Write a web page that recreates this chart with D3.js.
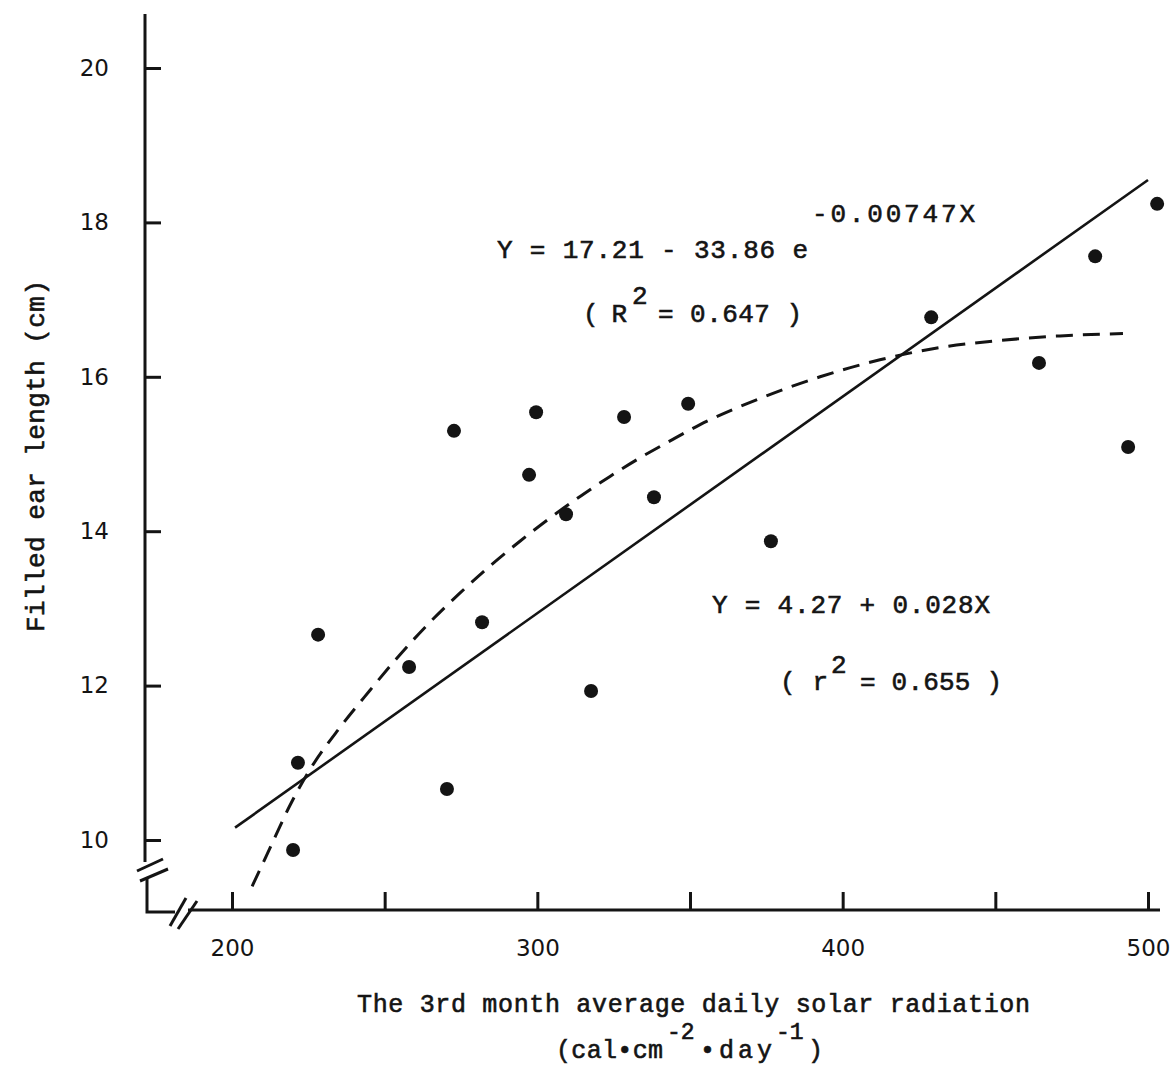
<!DOCTYPE html>
<html><head><meta charset="utf-8">
<script src="https://cdn.jsdelivr.net/npm/d3@7"></script>
<style>body{margin:0;background:#fff}svg{display:block}</style>
</head><body>
<svg id="c" width="1175" height="1070"></svg>
<script>
// ---- data ----
const xTicks = [200, 250, 300, 350, 400, 450, 500];
const xTickLabels = ["200", "", "300", "", "400", "", "500"];
const yTicks = [10, 12, 14, 16, 18, 20];
const yTickLabels = ["10", "12", "14", "16", "18", "20"];

const radiation = [220.0, 221.6, 228.2, 258.0, 270.4, 272.7, 281.9, 297.3, 299.6, 309.4,
                   317.6, 328.4, 338.2, 349.4, 376.5, 429.0, 464.3, 482.7, 493.5, 503.0];
const earLength = [9.87, 11.00, 12.66, 12.24, 10.66, 15.30, 12.82, 14.73, 15.54, 14.22,
                   11.93, 15.48, 14.44, 15.65, 13.87, 16.77, 16.18, 17.56, 15.09, 18.24];

const linearFitX = [201, 500];
const linearFitY = [10.16, 18.55];

const expFitX = [206.6, 212.5, 219.0, 225.5, 235.4, 245.2, 255.0, 264.8, 274.7, 284.5, 294.3,
                 304.1, 314.0, 323.8, 333.6, 343.5, 353.3, 372.9, 392.6, 412.2, 431.9, 451.5,
                 471.2, 491.8];
const expFitY = [9.40, 9.90, 10.45, 10.91, 11.46, 11.94, 12.40, 12.82, 13.20, 13.55, 13.87,
                 14.17, 14.45, 14.71, 14.95, 15.17, 15.38, 15.72, 16.00, 16.22, 16.38, 16.47,
                 16.53, 16.56];

// ---- layout ----
const svg = d3.select("#c");
const ink = "#141414";
const x = d3.scaleLinear().domain([200, 500]).range([232, 1148]);
const y = d3.scaleLinear().domain([10, 20]).range([840, 68]);
const axisX = 145, axisY = 910;
const mono = "'Liberation Mono','Courier New',monospace";
const sans = "'DejaVu Sans',sans-serif";

// axis lines
const ax = svg.append("g").attr("stroke", ink).attr("stroke-width", 3).attr("fill", "none");
ax.append("line").attr("x1", axisX).attr("x2", axisX).attr("y1", 14).attr("y2", y(10) + 22);
ax.append("line").attr("x1", axisX - 8).attr("y1", y(10) + 31).attr("x2", axisX + 18).attr("y2", y(10) + 19);
ax.append("line").attr("x1", axisX - 5).attr("y1", y(10) + 41).attr("x2", axisX + 23).attr("y2", y(10) + 29);
ax.append("path").attr("d", `M${axisX + 2},${y(10) + 38} V${axisY + 2} H${axisX + 30}`);
ax.append("line").attr("x1", axisX + 25).attr("y1", axisY + 16).attr("x2", axisX + 41).attr("y2", axisY - 12);
ax.append("line").attr("x1", axisX + 33).attr("y1", axisY + 19).attr("x2", axisX + 52).attr("y2", axisY - 9);
ax.append("line").attr("x1", axisX + 43).attr("x2", 1160).attr("y1", axisY).attr("y2", axisY);

// x axis ticks + labels
const gx = svg.append("g").attr("transform", `translate(0,${axisY})`)
  .call(d3.axisBottom(x).tickValues(xTicks)
    .tickFormat((d, i) => xTickLabels[i]).tickSizeInner(-18).tickSizeOuter(0).tickPadding(30));
gx.select(".domain").remove();
gx.selectAll(".tick line").attr("stroke", ink).attr("stroke-width", 3);
gx.selectAll(".tick text").attr("fill", ink).style("font-family", sans).style("font-size", "23px");

// y axis ticks + labels
const gy = svg.append("g").attr("transform", `translate(${axisX},0)`)
  .call(d3.axisLeft(y).tickValues(yTicks)
    .tickFormat((d, i) => yTickLabels[i]).tickSizeInner(-16).tickSizeOuter(0).tickPadding(36));
gy.select(".domain").remove();
gy.selectAll(".tick line").attr("stroke", ink).attr("stroke-width", 3);
gy.selectAll(".tick text").attr("fill", ink).style("font-family", sans).style("font-size", "23px");

// linear fit
const line = d3.line().x(d => x(d[0])).y(d => y(d[1]));
svg.append("path").datum(d3.zip(linearFitX, linearFitY)).attr("d", line)
  .attr("fill", "none").attr("stroke", ink).attr("stroke-width", 2.6);

// exponential fit (dashed)
svg.append("path").datum(d3.zip(expFitX, expFitY))
  .attr("d", line.curve(d3.curveMonotoneX))
  .attr("fill", "none").attr("stroke", ink).attr("stroke-width", 3)
  .attr("stroke-dasharray", "17,10");

// points
svg.append("g").selectAll("circle").data(d3.zip(radiation, earLength)).join("circle")
  .attr("cx", d => x(d[0])).attr("cy", d => y(d[1])).attr("r", 7).attr("fill", ink);

// text helper
function txt(s, px, py, len, size, anchor) {
  const t = svg.append("text").attr("x", px).attr("y", py).text(s)
    .attr("fill", ink).attr("stroke", ink).attr("stroke-width", 0.6)
    .style("font-family", mono).style("font-size", (size || 26) + "px")
    .attr("text-anchor", anchor || "start");
  if (len) t.attr("textLength", len).attr("lengthAdjust", "spacing");
  return t;
}

// equation 1
txt("Y = 17.21 - 33.86 e", 497, 258, 311);
txt("-0.00747X", 812, 222, 163);
txt("( R", 583, 322, 44);
txt("2", 632, 304);
txt("= 0.647 )", 658, 322, 144);

// equation 2
txt("Y = 4.27 + 0.028X", 712, 613, 278);
txt("( r", 780, 690, 48);
txt("2", 831, 673);
txt("= 0.655 )", 860, 690, 142);

// x axis title
txt("The 3rd month average daily solar radiation", 357, 1012, 673, 25);
txt("(cal\u2022cm", 556, 1058, 107, 25);
txt("-2", 667, 1039, null, 23);
txt("\u2022day", 700, 1058, 72, 25);
txt("-1", 776, 1039, null, 23);
txt(")", 808, 1058, null, 25);

// y axis title
svg.append("text").attr("transform", "translate(44,456) rotate(-90)")
  .attr("text-anchor", "middle").attr("fill", ink).attr("stroke", ink).attr("stroke-width", 0.6)
  .style("font-family", mono).style("font-size", "26px")
  .attr("textLength", 352).attr("lengthAdjust", "spacing")
  .text("Filled ear length (cm)");
</script>
</body></html>
